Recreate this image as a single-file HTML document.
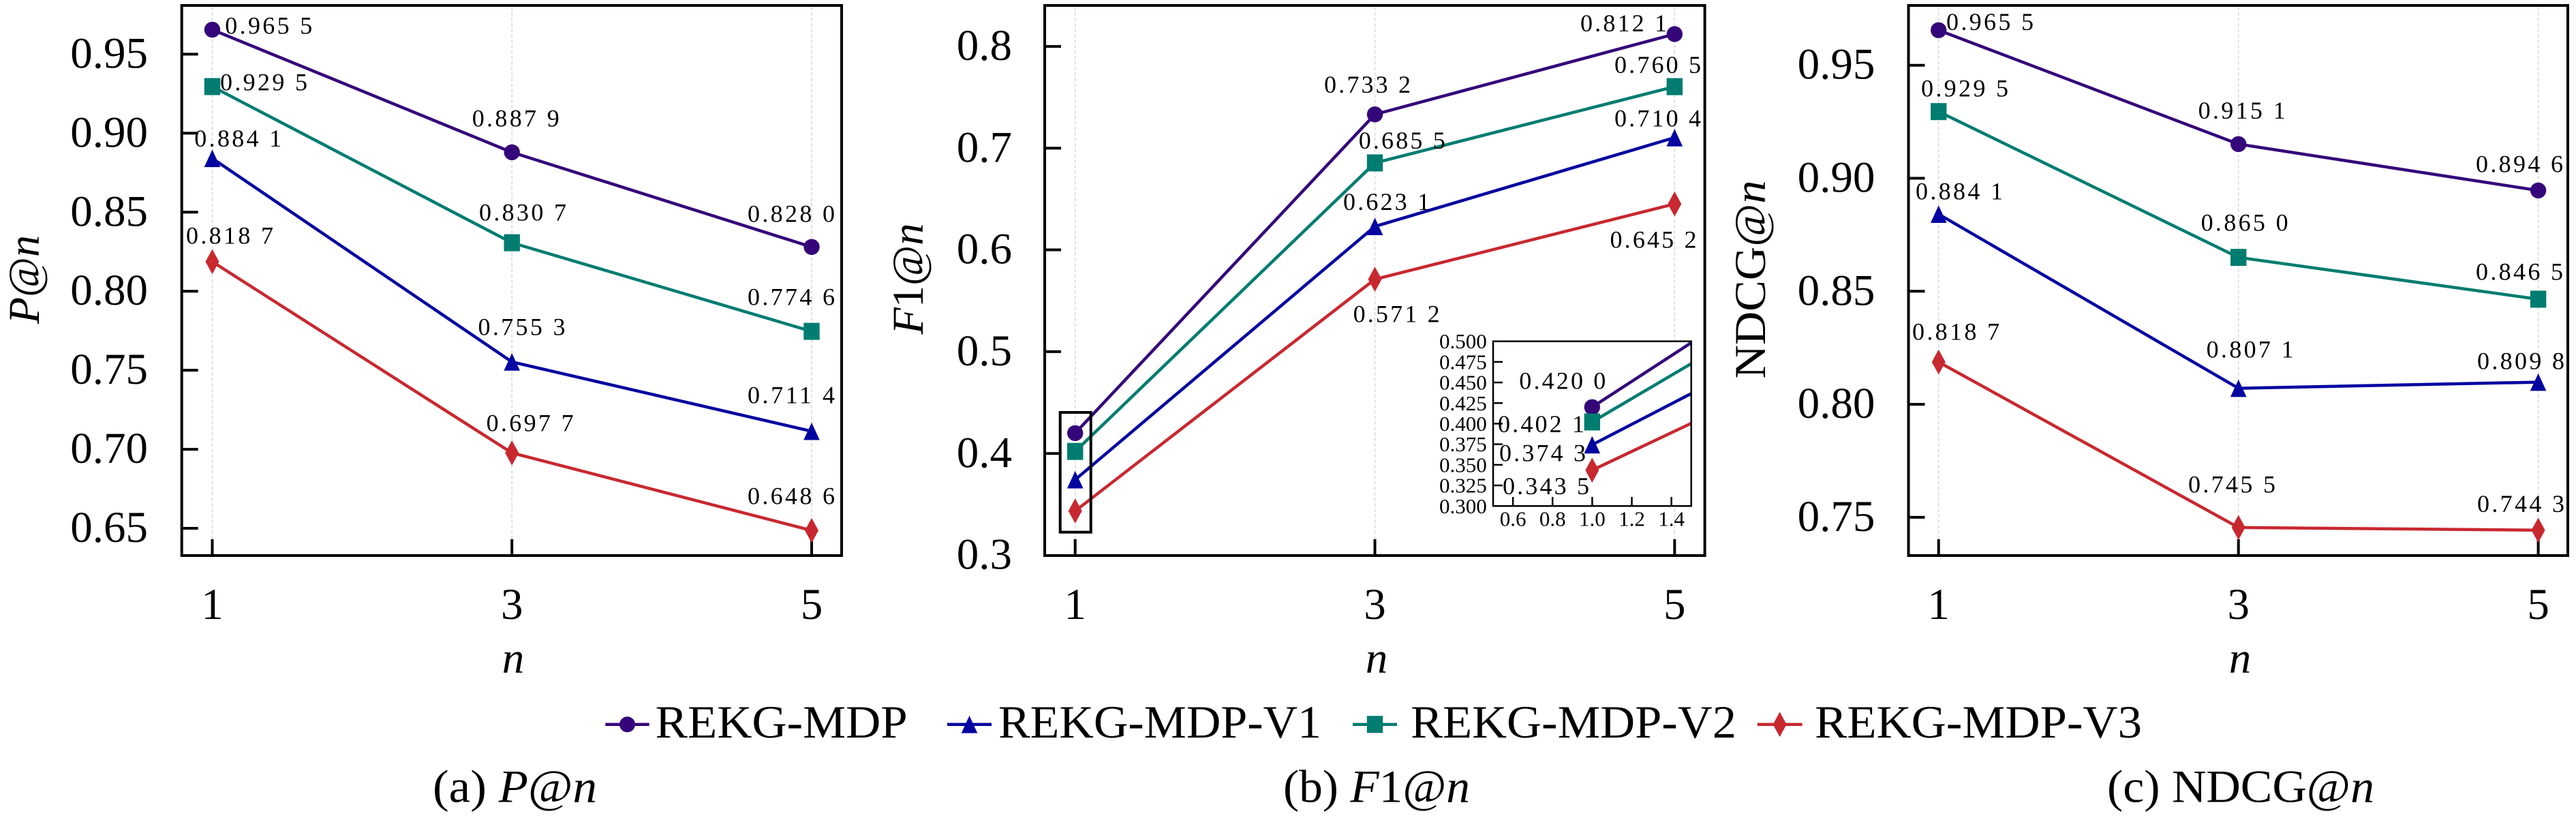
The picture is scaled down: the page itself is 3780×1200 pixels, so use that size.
<!DOCTYPE html>
<html><head><meta charset="utf-8"><style>
html,body{margin:0;padding:0;background:#fff;}
svg{display:block;}
text{font-family:"Liberation Serif","DejaVu Serif",serif;fill:#000;}
.tk{font-size:65px;}
.an{font-size:36px;}
.it{font-style:italic;}
.ins{font-size:31px;}
</style></head><body>
<svg xmlns="http://www.w3.org/2000/svg" width="3780" height="1200" viewBox="0 0 3780 1200">
<rect width="3780" height="1200" fill="#fff"/>

<!-- ============ PANEL A ============ -->
<g stroke="#d9d9d9" stroke-width="1.5" stroke-dasharray="5,3">
<line x1="311.5" y1="10" x2="311.5" y2="813"/><line x1="751.2" y1="10" x2="751.2" y2="813"/><line x1="1191" y1="10" x2="1191" y2="813"/>
</g>
<g stroke="#000" stroke-width="4">
<line x1="266.7" y1="79.5" x2="290.7" y2="79.5"/><line x1="266.7" y1="195.4" x2="290.7" y2="195.4"/><line x1="266.7" y1="311.3" x2="290.7" y2="311.3"/><line x1="266.7" y1="427.2" x2="290.7" y2="427.2"/><line x1="266.7" y1="543.1" x2="290.7" y2="543.1"/><line x1="266.7" y1="659.1" x2="290.7" y2="659.1"/><line x1="266.7" y1="775" x2="290.7" y2="775"/>
<line x1="311.5" y1="815" x2="311.5" y2="791"/><line x1="751.2" y1="815" x2="751.2" y2="791"/><line x1="1191" y1="815" x2="1191" y2="791"/>
</g>
<g class="tk" text-anchor="end">
<text x="217" y="99.5">0.95</text><text x="217" y="215.4">0.90</text><text x="217" y="331.3">0.85</text><text x="217" y="447.2">0.80</text><text x="217" y="563.1">0.75</text><text x="217" y="679.1">0.70</text><text x="217" y="795">0.65</text>
</g>
<g class="tk" text-anchor="middle">
<text x="311.5" y="908">1</text><text x="751.2" y="908">3</text><text x="1191" y="908">5</text>
</g>
<text class="tk" transform="translate(57,410) rotate(-90)" text-anchor="middle" textLength="130" lengthAdjust="spacingAndGlyphs"><tspan class="it">P</tspan>@<tspan class="it">n</tspan></text>
<text class="tk it" x="753" y="987" text-anchor="middle">n</text>

<g fill="none" stroke-width="4.5" stroke-linejoin="round">
<polyline stroke="#34067a" points="311.5,43.6 751.2,223.4 1191,362.3"/>
<polyline stroke="#0303a0" points="311.5,232.3 751.2,530.9 1191,632.7"/>
<polyline stroke="#007c70" points="311.5,127 751.2,356.1 1191,486.1"/>
<polyline stroke="#c8282f" points="311.5,383.9 751.2,664.4 1191,778.2"/>
</g>
<g fill="#34067a"><circle cx="311.5" cy="43.6" r="11.7"/><circle cx="751.2" cy="223.4" r="11.7"/><circle cx="1191" cy="362.3" r="11.7"/></g>
<g fill="#0303a0"><polygon points="311.5,219.5 299.7,245.1 323.3,245.1"/><polygon points="751.2,518.1 739.4,543.7 763,543.7"/><polygon points="1191,619.9 1179.2,645.5 1202.8,645.5"/></g>
<g fill="#007c70"><rect x="299.8" y="114.5" width="23.4" height="25"/><rect x="739.5" y="343.6" width="23.4" height="25"/><rect x="1179.3" y="473.6" width="23.4" height="25"/></g>
<g fill="#c8282f"><polygon points="311.5,365.6 321.5,383.9 311.5,402.2 301.5,383.9"/><polygon points="751.2,646.1 761.2,664.4 751.2,682.7 741.2,664.4"/><polygon points="1191,759.9 1201,778.2 1191,796.5 1181,778.2"/></g>
<g class="an">
<text x="330.3" y="49.3" textLength="128" lengthAdjust="spacing">0.965 5</text>
<text x="323" y="132.7" textLength="128" lengthAdjust="spacing">0.929 5</text>
<text x="285.3" y="215" textLength="128" lengthAdjust="spacing">0.884 1</text>
<text x="273" y="357.5" textLength="128" lengthAdjust="spacing">0.818 7</text>
<text x="692.7" y="185.5" textLength="128" lengthAdjust="spacing">0.887 9</text>
<text x="703" y="323.5" textLength="128" lengthAdjust="spacing">0.830 7</text>
<text x="701.5" y="491.5" textLength="128" lengthAdjust="spacing">0.755 3</text>
<text x="713.6" y="632.5" textLength="128" lengthAdjust="spacing">0.697 7</text>
<text x="1097" y="325.3" textLength="128" lengthAdjust="spacing">0.828 0</text>
<text x="1097" y="447.5" textLength="128" lengthAdjust="spacing">0.774 6</text>
<text x="1097" y="591.5" textLength="128" lengthAdjust="spacing">0.711 4</text>
<text x="1097" y="739.5" textLength="128" lengthAdjust="spacing">0.648 6</text>
</g>
<rect x="266.7" y="8" width="968.3" height="807" fill="none" stroke="#000" stroke-width="4"/>

<!-- ============ PANEL B ============ -->
<g stroke="#d9d9d9" stroke-width="1.5" stroke-dasharray="5,3">
<line x1="1577.7" y1="10" x2="1577.7" y2="813"/><line x1="2017.5" y1="10" x2="2017.5" y2="813"/><line x1="2457.3" y1="10" x2="2457.3" y2="813"/>
</g>
<g stroke="#000" stroke-width="4">
<line x1="1533" y1="68.1" x2="1557" y2="68.1"/><line x1="1533" y1="217.4" x2="1557" y2="217.4"/><line x1="1533" y1="366.5" x2="1557" y2="366.5"/><line x1="1533" y1="515.9" x2="1557" y2="515.9"/><line x1="1533" y1="665.3" x2="1557" y2="665.3"/>
<line x1="1577.7" y1="815" x2="1577.7" y2="791"/><line x1="2017.5" y1="815" x2="2017.5" y2="791"/><line x1="2457.3" y1="815" x2="2457.3" y2="791"/>
</g>
<g class="tk" text-anchor="end">
<text x="1485" y="88.1">0.8</text><text x="1485" y="237.4">0.7</text><text x="1485" y="386.5">0.6</text><text x="1485" y="535.9">0.5</text><text x="1485" y="685.3">0.4</text><text x="1485" y="834.6">0.3</text>
</g>
<g class="tk" text-anchor="middle">
<text x="1577.7" y="908">1</text><text x="2017.5" y="908">3</text><text x="2457.3" y="908">5</text>
</g>
<text class="tk" transform="translate(1354,409) rotate(-90)" text-anchor="middle" textLength="163" lengthAdjust="spacingAndGlyphs"><tspan class="it">F</tspan>1@<tspan class="it">n</tspan></text>
<text class="tk it" x="2020" y="987" text-anchor="middle">n</text>

<g fill="none" stroke-width="4.5" stroke-linejoin="round">
<polyline stroke="#34067a" points="1577.7,635.4 2017.5,167.8 2457.3,50"/>
<polyline stroke="#0303a0" points="1577.7,703.7 2017.5,332.2 2457.3,201.9"/>
<polyline stroke="#007c70" points="1577.7,662.2 2017.5,239 2457.3,127.1"/>
<polyline stroke="#c8282f" points="1577.7,749.6 2017.5,409.7 2457.3,299.2"/>
</g>
<g fill="#34067a"><circle cx="1577.7" cy="635.4" r="11.7"/><circle cx="2017.5" cy="167.8" r="11.7"/><circle cx="2457.3" cy="50" r="11.7"/></g>
<g fill="#0303a0"><polygon points="1577.7,690.9 1565.9,716.5 1589.5,716.5"/><polygon points="2017.5,319.4 2005.7,345 2029.3,345"/><polygon points="2457.3,189.1 2445.5,214.7 2469.1,214.7"/></g>
<g fill="#007c70"><rect x="1566" y="649.7" width="23.4" height="25"/><rect x="2005.8" y="226.5" width="23.4" height="25"/><rect x="2445.6" y="114.6" width="23.4" height="25"/></g>
<g fill="#c8282f"><polygon points="1577.7,731.3 1587.7,749.6 1577.7,767.9 1567.7,749.6"/><polygon points="2017.5,391.4 2027.5,409.7 2017.5,428 2007.5,409.7"/><polygon points="2457.3,280.9 2467.3,299.2 2457.3,317.5 2447.3,299.2"/></g>
<g class="an">
<text x="2319" y="46" textLength="127" lengthAdjust="spacing">0.812 1</text>
<text x="2369" y="107.2" textLength="127" lengthAdjust="spacing">0.760 5</text>
<text x="2369" y="185.5" textLength="127" lengthAdjust="spacing">0.710 4</text>
<text x="2362.5" y="363.5" textLength="127" lengthAdjust="spacing">0.645 2</text>
<text x="1943" y="136" textLength="127" lengthAdjust="spacing">0.733 2</text>
<text x="1993.7" y="218.2" textLength="127" lengthAdjust="spacing">0.685 5</text>
<text x="1971" y="308" textLength="127" lengthAdjust="spacing">0.623 1</text>
<text x="1985.6" y="472.5" textLength="127" lengthAdjust="spacing">0.571 2</text>
</g>
<rect x="1555.7" y="605" width="45" height="175.7" fill="none" stroke="#000" stroke-width="4"/>

<!-- inset -->
<rect x="2191" y="500.7" width="290.7" height="241.6" fill="#fff"/>
<g fill="none" stroke-width="4.5" stroke-linejoin="round">
<line stroke="#34067a" x1="2336.3" y1="597.3" x2="2481.7" y2="502.8"/>
<line stroke="#007c70" x1="2336.3" y1="619" x2="2481.7" y2="533.4"/>
<line stroke="#0303a0" x1="2336.3" y1="652.5" x2="2481.7" y2="577.4"/>
<line stroke="#c8282f" x1="2336.3" y1="689.8" x2="2481.7" y2="621"/>
</g>
<circle cx="2336.3" cy="597.3" r="11.7" fill="#34067a"/>
<rect x="2324.6" y="606.5" width="23.4" height="25" fill="#007c70"/>
<polygon points="2336.3,639.7 2324.5,665.3 2348.1,665.3" fill="#0303a0"/>
<polygon points="2336.3,671.5 2346.3,689.8 2336.3,708.1 2326.3,689.8" fill="#c8282f"/>
<g stroke="#000" stroke-width="2.5">
<line x1="2191" y1="712.1" x2="2205" y2="712.1"/><line x1="2191" y1="681.9" x2="2205" y2="681.9"/><line x1="2191" y1="651.7" x2="2205" y2="651.7"/><line x1="2191" y1="621.5" x2="2205" y2="621.5"/><line x1="2191" y1="591.3" x2="2205" y2="591.3"/><line x1="2191" y1="561.1" x2="2205" y2="561.1"/><line x1="2191" y1="530.9" x2="2205" y2="530.9"/>
<line x1="2220.1" y1="742.3" x2="2220.1" y2="729"/><line x1="2278.2" y1="742.3" x2="2278.2" y2="729"/><line x1="2336.4" y1="742.3" x2="2336.4" y2="729"/><line x1="2394.5" y1="742.3" x2="2394.5" y2="729"/><line x1="2452.6" y1="742.3" x2="2452.6" y2="729"/>
</g>
<rect x="2191" y="500.7" width="290.7" height="241.6" fill="none" stroke="#000" stroke-width="2.5"/>
<g class="ins" text-anchor="end">
<text x="2181.7" y="511.2">0.500</text><text x="2181.7" y="541.4">0.475</text><text x="2181.7" y="571.6">0.450</text><text x="2181.7" y="601.8">0.425</text><text x="2181.7" y="632">0.400</text><text x="2181.7" y="662.2">0.375</text><text x="2181.7" y="692.4">0.350</text><text x="2181.7" y="722.6">0.325</text><text x="2181.7" y="752.8">0.300</text>
</g>
<g class="ins" text-anchor="middle">
<text x="2220.1" y="771.7">0.6</text><text x="2278.2" y="771.7">0.8</text><text x="2336.4" y="771.7">1.0</text><text x="2394.5" y="771.7">1.2</text><text x="2452.6" y="771.7">1.4</text>
</g>
<g class="an">
<text x="2229.3" y="570.7" textLength="127" lengthAdjust="spacing">0.420 0</text>
<text x="2198" y="634" textLength="127" lengthAdjust="spacing">0.402 1</text>
<text x="2200" y="676.7" textLength="127" lengthAdjust="spacing">0.374 3</text>
<text x="2205" y="725" textLength="127" lengthAdjust="spacing">0.343 5</text>
</g>
<rect x="1533" y="8" width="968.6" height="807" fill="none" stroke="#000" stroke-width="4"/>

<!-- ============ PANEL C ============ -->
<g stroke="#d9d9d9" stroke-width="1.5" stroke-dasharray="5,3">
<line x1="2844.7" y1="10" x2="2844.7" y2="813"/><line x1="3284.7" y1="10" x2="3284.7" y2="813"/><line x1="3724.6" y1="10" x2="3724.6" y2="813"/>
</g>
<g stroke="#000" stroke-width="4">
<line x1="2800.5" y1="95.7" x2="2824.5" y2="95.7"/><line x1="2800.5" y1="261.5" x2="2824.5" y2="261.5"/><line x1="2800.5" y1="427.3" x2="2824.5" y2="427.3"/><line x1="2800.5" y1="593.1" x2="2824.5" y2="593.1"/><line x1="2800.5" y1="758.9" x2="2824.5" y2="758.9"/>
<line x1="2844.7" y1="815" x2="2844.7" y2="791"/><line x1="3284.7" y1="815" x2="3284.7" y2="791"/><line x1="3724.6" y1="815" x2="3724.6" y2="791"/>
</g>
<g class="tk" text-anchor="end">
<text x="2751.4" y="115.7">0.95</text><text x="2751.4" y="281.5">0.90</text><text x="2751.4" y="447.3">0.85</text><text x="2751.4" y="613.1">0.80</text><text x="2751.4" y="778.9">0.75</text>
</g>
<g class="tk" text-anchor="middle">
<text x="2844.7" y="908">1</text><text x="3284.7" y="908">3</text><text x="3724.6" y="908">5</text>
</g>
<text class="tk" transform="translate(2590,410) rotate(-90)" text-anchor="middle" textLength="291" lengthAdjust="spacingAndGlyphs">NDCG@<tspan class="it">n</tspan></text>
<text class="tk it" x="3287" y="987" text-anchor="middle">n</text>

<g fill="none" stroke-width="4.5" stroke-linejoin="round">
<polyline stroke="#34067a" points="2844.7,44.3 3284.7,211.4 3724.6,279.4"/>
<polyline stroke="#0303a0" points="2844.7,314.2 3284.7,569.6 3724.6,560.6"/>
<polyline stroke="#007c70" points="2844.7,163.7 3284.7,377.6 3724.6,438.9"/>
<polyline stroke="#c8282f" points="2844.7,531.1 3284.7,773.8 3724.6,777.8"/>
</g>
<g fill="#34067a"><circle cx="2844.7" cy="44.3" r="11.7"/><circle cx="3284.7" cy="211.4" r="11.7"/><circle cx="3724.6" cy="279.4" r="11.7"/></g>
<g fill="#0303a0"><polygon points="2844.7,301.4 2832.9,327 2856.5,327"/><polygon points="3284.7,556.8 3272.9,582.4 3296.5,582.4"/><polygon points="3724.6,547.8 3712.8,573.4 3736.4,573.4"/></g>
<g fill="#007c70"><rect x="2833" y="151.2" width="23.4" height="25"/><rect x="3273" y="365.1" width="23.4" height="25"/><rect x="3712.9" y="426.4" width="23.4" height="25"/></g>
<g fill="#c8282f"><polygon points="2844.7,512.8 2854.7,531.1 2844.7,549.4 2834.7,531.1"/><polygon points="3284.7,755.5 3294.7,773.8 3284.7,792.1 3274.7,773.8"/><polygon points="3724.6,759.5 3734.6,777.8 3724.6,796.1 3714.6,777.8"/></g>
<g class="an">
<text x="2856" y="44" textLength="128" lengthAdjust="spacing">0.965 5</text>
<text x="2819" y="141.5" textLength="128" lengthAdjust="spacing">0.929 5</text>
<text x="2811" y="292.5" textLength="128" lengthAdjust="spacing">0.884 1</text>
<text x="2806" y="498.3" textLength="128" lengthAdjust="spacing">0.818 7</text>
<text x="3225.6" y="174" textLength="128" lengthAdjust="spacing">0.915 1</text>
<text x="3229.6" y="338.5" textLength="128" lengthAdjust="spacing">0.865 0</text>
<text x="3237.6" y="524.3" textLength="128" lengthAdjust="spacing">0.807 1</text>
<text x="3211" y="722.5" textLength="128" lengthAdjust="spacing">0.745 5</text>
<text x="3633" y="252.5" textLength="128" lengthAdjust="spacing">0.894 6</text>
<text x="3633" y="410.3" textLength="128" lengthAdjust="spacing">0.846 5</text>
<text x="3635" y="541.5" textLength="128" lengthAdjust="spacing">0.809 8</text>
<text x="3635" y="751.2" textLength="128" lengthAdjust="spacing">0.744 3</text>
</g>
<rect x="2800.5" y="8" width="967.5" height="807" fill="none" stroke="#000" stroke-width="4"/>

<!-- ============ LEGEND ============ -->
<g stroke-width="4.5">
<line x1="888.3" y1="1062.7" x2="952.7" y2="1062.7" stroke="#34067a"/>
<line x1="1390" y1="1062.7" x2="1455" y2="1062.7" stroke="#0303a0"/>
<line x1="1985" y1="1062.7" x2="2050" y2="1062.7" stroke="#007c70"/>
<line x1="2578.7" y1="1062.7" x2="2644.6" y2="1062.7" stroke="#c8282f"/>
</g>
<circle cx="920.5" cy="1062.7" r="11.5" fill="#34067a"/>
<polygon points="1422.5,1049.9 1410.7,1075.5 1434.3,1075.5" fill="#0303a0"/>
<rect x="2005.8" y="1050.2" width="23.4" height="25" fill="#007c70"/>
<polygon points="2611.6,1044.4 2621.6,1062.7 2611.6,1081 2601.6,1062.7" fill="#c8282f"/>
<g style="font-size:68px">
<text x="961.7" y="1082" textLength="370" lengthAdjust="spacingAndGlyphs">REKG-MDP</text>
<text x="1465" y="1082" textLength="474" lengthAdjust="spacingAndGlyphs">REKG-MDP-V1</text>
<text x="2070" y="1082" textLength="478" lengthAdjust="spacingAndGlyphs">REKG-MDP-V2</text>
<text x="2663" y="1082" textLength="480" lengthAdjust="spacingAndGlyphs">REKG-MDP-V3</text>
</g>

<!-- ============ CAPTIONS ============ -->
<g style="font-size:68px">
<text x="635" y="1176.5" textLength="241" lengthAdjust="spacingAndGlyphs">(a) <tspan class="it">P</tspan>@<tspan class="it">n</tspan></text>
<text x="1883" y="1176.5" textLength="274" lengthAdjust="spacingAndGlyphs">(b) <tspan class="it">F</tspan>1@<tspan class="it">n</tspan></text>
<text x="3092" y="1176.5" textLength="392" lengthAdjust="spacingAndGlyphs">(c) NDCG@<tspan class="it">n</tspan></text>
</g>
</svg>
</body></html>
